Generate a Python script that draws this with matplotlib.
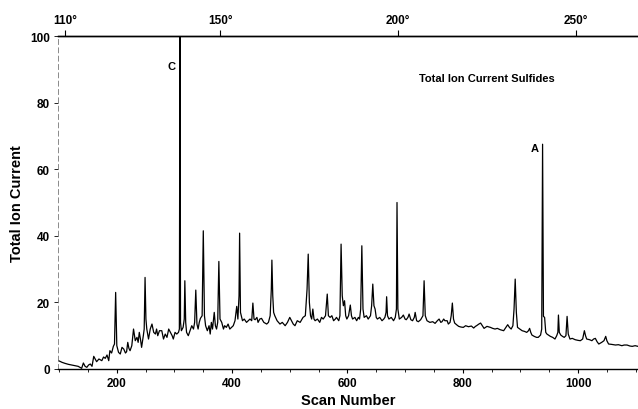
import matplotlib
matplotlib.use("Agg")
import matplotlib.pyplot as plt

# ---- trace: scan number and total ion current ----
scan = [99, 105, 110, 116, 122, 128, 133, 139, 142, 145, 148, 151, 154, 157, 160,
        163, 165, 169, 174, 177, 180, 183, 186, 188, 191, 194, 196, 198,
        200, 203, 206, 209, 212, 215, 217, 219, 221, 223, 226, 229, 232, 235, 237,
        239, 241, 243, 246, 247.5, 249, 250.5, 252, 255, 258, 261, 264, 267, 269, 271,
        274, 278, 281, 284, 287, 290, 293, 296, 298,
        301, 304, 307, 308.5, 309.5, 310.5, 312, 315, 317, 318, 319.5, 321, 324, 327,
        330, 333, 335, 337, 339, 341, 343, 345, 348, 350, 352, 354, 357, 360, 362,
        364, 366, 369, 371, 373, 375, 377, 379, 382, 385, 387, 390, 393, 396, 399,
        402, 405, 408, 410, 412, 413, 414.5, 418, 421, 425, 428, 431, 434, 436, 438,
        440, 443, 445, 448, 451, 455, 460, 463, 466, 468, 469, 470.5, 472, 474, 478,
        483, 487, 492, 496, 500,
        503, 506, 509, 513, 518, 523, 527, 530, 532, 534, 536, 538, 540, 542, 544,
        548, 552, 555, 558, 562, 565, 567, 570, 573, 576, 579, 581, 585, 587, 589,
        591, 593, 595, 597, 599, 602, 605, 607, 609, 613, 616, 619, 621, 623, 625,
        627, 629, 633, 636, 640, 642, 644, 646, 648, 650, 652, 656, 660, 663, 665,
        667, 668, 669.5, 672, 676, 680, 683, 685, 686, 687.5, 690, 694, 697, 700,
        702, 705, 707, 710, 713, 716, 717.5, 720, 723, 727, 731, 733, 735, 738, 743,
        748, 752, 756, 759, 762, 764, 767, 769, 773, 775, 778, 780, 782, 784, 786,
        790, 793, 797, 801, 805, 810, 815, 819, 822, 824, 828, 831, 834, 837, 842,
        848, 852, 856, 860, 865, 871, 875, 878, 881, 884, 887, 889, 891, 893, 895,
        899, 903, 907, 911, 914, 916, 918, 920, 924, 928, 931, 935, 937, 938.5, 940,
        942, 944, 946, 952, 956, 960, 963, 965, 966, 967.5, 970, 973, 976, 979, 981,
        983, 986, 990, 995, 1000, 1004, 1008, 1011, 1013, 1015, 1020, 1024, 1027, 1030,
        1033, 1036, 1041, 1045, 1048, 1050, 1053, 1058, 1065, 1070, 1076, 1080, 1085,
        1090, 1094, 1099, 1104]
current = [2.5, 2.0, 1.7, 1.4, 1.2, 1.0, 0.8, 0.2, 1.8, 0.8, 0.5, 1.2, 1.5, 0.8, 3.8,
           2.8, 2.2, 3.0, 2.5, 3.6, 3.2, 4.2, 2.5, 5.5, 4.8, 6.8, 7.5, 23.0,
           7.0, 5.0, 4.5, 6.5, 6.0, 4.8, 5.2, 8.0, 6.2, 5.5, 7.0, 12.0, 8.5, 9.5, 8.0,
           11.0, 9.0, 6.5, 10.0, 12.0, 27.5, 15.0, 12.0, 9.0, 12.0, 13.5, 11.0, 10.5, 12.0, 10.0,
           11.5, 11.5, 9.0, 10.5, 9.5, 12.0, 11.0, 10.0, 9.0,
           11.0, 10.5, 11.0, 12.0, 100.0, 14.0, 11.5, 12.5, 15.0, 26.5, 14.0, 11.0, 10.0, 11.5,
           13.0, 12.0, 14.0, 23.7, 13.5, 12.0, 14.0, 15.2, 16.0, 41.5, 16.0, 13.0, 11.5, 13.0, 10.5,
           14.0, 12.0, 17.0, 13.0, 12.0, 14.0, 32.3, 15.0, 14.0, 12.0, 13.0, 12.5, 13.5, 12.0, 12.5,
           13.0, 14.5, 18.8, 15.0, 22.0, 40.8, 17.0, 14.5, 15.0, 14.0, 14.5, 15.0, 14.5, 19.8, 15.0,
           14.8, 15.5, 14.0, 15.0, 15.2, 14.0, 13.5, 14.0, 16.0, 24.0, 32.7, 22.0, 17.0, 16.0, 14.5,
           13.5, 14.0, 13.0, 14.0, 15.5,
           14.5, 13.5, 13.0, 14.5, 14.0, 15.5, 16.0, 24.0, 34.5, 20.0, 16.0, 15.0, 18.0, 15.0, 14.5,
           15.0, 14.0, 15.5, 15.0, 16.0, 22.5, 16.0, 15.5, 16.0, 14.5, 15.0, 15.5, 14.5, 16.0, 37.5,
           22.0, 19.0, 20.5, 16.0, 15.0, 16.0, 19.2, 16.0, 15.0, 15.5, 14.5, 15.5, 15.0, 18.0, 37.0,
           18.0, 15.5, 16.0, 15.0, 16.0, 19.0, 25.5, 19.0, 18.0, 15.5, 15.0, 15.5, 14.5, 15.0, 15.5,
           17.0, 21.7, 16.0, 15.0, 15.5, 14.5, 15.5, 18.0, 50.0, 18.0, 15.0, 15.5, 16.2, 15.0,
           14.8, 15.5, 16.5, 14.8, 14.5, 15.5, 17.0, 14.5, 14.2, 14.8, 16.0, 26.5, 16.0, 14.5, 14.0,
           14.2, 13.7, 14.5, 15.0, 14.0, 14.2, 15.0, 14.5, 14.5, 13.5, 14.0, 16.0, 19.8, 15.0, 13.8,
           13.2, 12.8, 12.6, 12.5, 13.0, 12.7, 12.9, 12.3, 12.8, 13.0, 13.5, 13.8, 13.0, 12.2, 12.8,
           12.5, 12.2, 12.0, 12.2, 11.8, 11.5, 12.5, 13.3, 12.5, 12.0, 13.0, 18.0, 27.0, 17.0, 12.5,
           12.0, 11.5, 11.3, 11.0, 11.5, 12.2, 11.0, 10.2, 9.8, 9.5, 9.5, 10.2, 12.0, 67.5, 15.8,
           15.5, 11.0, 10.5, 9.8, 9.5, 9.0, 10.0, 11.0, 16.2, 11.0, 10.2, 9.8, 9.5, 10.0, 15.8,
           10.5, 9.0, 9.2, 8.8, 8.6, 8.5, 9.0, 11.5, 10.0, 9.0, 8.8, 8.5, 9.0, 9.2,
           8.2, 7.5, 8.0, 8.5, 9.8, 8.5, 7.5, 7.4, 7.2, 7.3, 7.0, 7.2, 7.2,
           6.9, 6.8, 7.0, 6.8]

y_ticks = [0, 20, 40, 60, 80, 100]
x_ticks = [200, 400, 600, 800, 1000]
temp_tick_scans = [111, 379, 688, 997]
temp_labels = ["110°", "150°", "200°", "250°"]
peak_names = ["C", "A"]
peak_label_x = [294, 925]
peak_label_y = [91, 66.5]

plt.rcParams['font.family'] = ['Liberation Sans', 'DejaVu Sans']

fig = plt.figure(figsize=(6.38, 4.10), dpi=100)
ax = fig.add_axes([58 / 638, 40 / 410, 580 / 638, 333 / 410])

ax.plot(scan, current, color='black', lw=0.9)

ax.set_xlim(98, 1104)
ax.set_ylim(0, 100)

ax.set_xticks(x_ticks)
ax.set_xticks(range(100, 1101, 50), minor=True)
ax.set_yticks(y_ticks)
ax.tick_params(axis='x', direction='out', length=3, width=0.8, labelsize=8.5, pad=3)
ax.tick_params(axis='x', which='minor', direction='out', length=2, width=0.6)
ax.tick_params(axis='y', direction='out', length=3, width=0.6, labelsize=8.5, pad=3)
for lab in ax.get_xticklabels() + ax.get_yticklabels():
    lab.set_fontweight('bold')

ax.spines['right'].set_visible(False)
ax.spines['left'].set_color('#777777')
ax.spines['left'].set_linewidth(0.6)
ax.spines['left'].set_linestyle((0, (6, 4)))
ax.spines['top'].set_linewidth(1.0)
ax.spines['bottom'].set_linewidth(1.0)

ax.set_xlabel("Scan Number", fontsize=10.5, fontweight='bold', labelpad=3)
ax.set_ylabel("Total Ion Current", fontsize=10.5, fontweight='bold', labelpad=4)

top = ax.twiny()
top.set_xlim(ax.get_xlim())
top.set_xticks(temp_tick_scans)
top.set_xticklabels(temp_labels)
top.tick_params(axis='x', direction='out', length=4, width=0.8, labelsize=8.5, pad=3)
for lab in top.get_xticklabels():
    lab.set_fontweight('bold')
for s in ['right', 'left', 'bottom']:
    top.spines[s].set_visible(False)
top.spines['top'].set_linewidth(1.0)

for name, xx, yy in zip(peak_names, peak_label_x, peak_label_y):
    ax.text(xx, yy, name, fontsize=8, fontweight='bold', ha='center', va='center')

ax.text(842, 87.4, "Total Ion Current Sulfides", fontsize=8, fontweight='bold',
        ha='center', va='center')

fig.savefig("out.png", dpi=100)
